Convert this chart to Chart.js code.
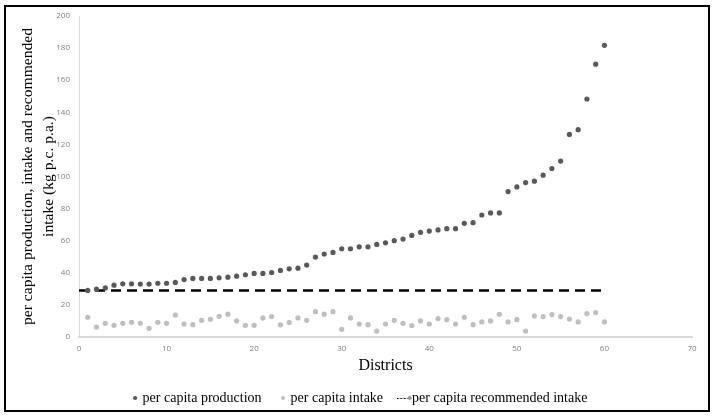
<!DOCTYPE html>
<html>
<head>
<meta charset="utf-8">
<script src="https://cdn.jsdelivr.net/npm/chart.js@4/dist/chart.umd.min.js"></script>
<style>
  body { margin: 0; background: #fff; }
  #frame { position: absolute; left: 4px; top: 5px; width: 706px; height: 407px; border: 2px solid #000; box-sizing: border-box; }
  #wrap { position: absolute; left: 0; top: 0; width: 715px; height: 418px; }
</style>
</head>
<body>
<div id="frame"></div>
<div id="wrap"><canvas id="chart"></canvas></div>
<script>
var districts = [1, 2, 3, 4, 5, 6, 7, 8, 9, 10, 11, 12, 13, 14, 15, 16, 17, 18, 19, 20,
  21, 22, 23, 24, 25, 26, 27, 28, 29, 30, 31, 32, 33, 34, 35, 36, 37, 38, 39, 40,
  41, 42, 43, 44, 45, 46, 47, 48, 49, 50, 51, 52, 53, 54, 55, 56, 57, 58, 59, 60];

// kg per capita per year
var production = [29, 29.8, 30.6, 32.3, 33.1, 33.1, 33, 33, 33.5, 33.5,
  34, 35.8, 36.5, 36.5, 36.5, 36.9, 37.3, 37.9, 38.8, 39.6,
  39.6, 40.2, 41.5, 42.5, 42.9, 44.8, 49.8, 51.7, 52.7, 55,
  55, 56.2, 56.2, 57.7, 58.7, 60, 61, 63.3, 65.2, 66,
  66.7, 67.5, 67.5, 70.8, 71.2, 76, 77.3, 77.3, 90.6, 93.5,
  96.2, 97.1, 100.8, 105, 109.6, 126.2, 129.2, 148.3, 170, 181.7];

var intake = [12.3, 6.2, 8.5, 7.3, 8.5, 9.2, 8.5, 5.4, 9.2, 8.5,
  13.7, 8.1, 7.7, 10.4, 11, 12.9, 14.2, 10, 7.3, 7.3,
  11.9, 12.7, 7.6, 9.1, 11.9, 10.4, 15.8, 14.2, 15.8, 4.8,
  11.9, 8.1, 7.7, 3.7, 8.1, 10.4, 8.5, 7.1, 10, 8.1,
  11.5, 10.8, 8.1, 12.3, 7.7, 9.4, 10, 14.1, 9.4, 10.8,
  3.7, 13.1, 12.7, 14, 12.7, 11.2, 9.4, 14.6, 15.2, 9.4];

var recX = [0, 60];
var recommended = [29, 29];

var xTicks = [0, 10, 20, 30, 40, 50, 60, 70];
var yTicks = [0, 20, 40, 60, 80, 100, 120, 140, 160, 180, 200];

function toPoints(xs, ys){
  return xs.map(function(x, i){ return {x: x, y: ys[i]}; });
}

// little "---◆" swatch for the legend
var dashIcon = document.createElement('canvas');
dashIcon.width = 16;
dashIcon.height = 6;
(function(){
  var c = dashIcon.getContext('2d');
  c.strokeStyle = '#000';
  c.lineWidth = 1;
  c.setLineDash([2, 1.5]);
  c.beginPath();
  c.moveTo(0, 3.5);
  c.lineTo(11, 3.5);
  c.stroke();
  c.fillStyle = '#8c8c8c';
  c.beginPath();
  c.moveTo(13, 0.5); c.lineTo(15.5, 3); c.lineTo(13, 5.5); c.lineTo(10.5, 3);
  c.closePath();
  c.fill();
})();

var serif = '"Liberation Serif", "Times New Roman", serif';
var tickFont = {family: '"Open Sans", sans-serif', size: 8};

// legend sits a bit right of the canvas centre in the original
var legendShift = {
  id: 'legendShift',
  afterLayout: function(chart){
    chart.legend.left += 15;
    chart.legend.right += 15;
  }
};

new Chart(document.getElementById('chart'), {
  type: 'scatter',
  data: {
    datasets: [
      {label: 'per capita production', data: toPoints(districts, production),
        backgroundColor: '#595959', borderColor: '#595959', pointRadius: 2.6, borderWidth: 0},
      {label: 'per capita intake', data: toPoints(districts, intake),
        backgroundColor: '#bfbfbf', borderColor: '#bfbfbf', pointRadius: 2.6, borderWidth: 0},
      {label: 'per capita recommended intake', type: 'line', data: toPoints(recX, recommended),
        borderColor: '#000', borderWidth: 2.6, borderDash: [10, 6], pointRadius: 0, fill: false}
    ]
  },
  plugins: [legendShift],
  options: {
    responsive: true,
    maintainAspectRatio: false,
    animation: false,
    layout: {padding: {left: 0, right: 23, top: 16, bottom: 3}},
    plugins: {
      tooltip: {enabled: false},
      legend: {
        position: 'bottom',
        labels: {
          usePointStyle: true,
          boxWidth: 1,
          boxHeight: 3,
          padding: 21,
          color: '#000',
          font: {family: serif, size: 14},
          generateLabels: function(chart){
            return chart.data.datasets.map(function(ds, i){
              var isLine = ds.type === 'line';
              return {
                text: ds.label,
                datasetIndex: i,
                fillStyle: ds.backgroundColor,
                strokeStyle: ds.backgroundColor,
                lineWidth: 0,
                pointStyle: isLine ? dashIcon : 'circle',
                fontColor: '#000'
              };
            });
          }
        }
      }
    },
    scales: {
      x: {
        type: 'linear', min: 0, max: 70,
        afterBuildTicks: function(axis){ axis.ticks = xTicks.map(function(v){ return {value: v}; }); },
        afterFit: function(axis){ axis.height = 33; },
        grid: {display: false, drawTicks: false},
        border: {display: true, color: '#d9d9d9', width: 2},
        ticks: {padding: 7, color: '#7f7f7f', font: tickFont},
        title: {display: true, text: 'Districts', color: '#000',
          font: {family: serif, size: 16, lineHeight: 0.5}, padding: {top: 0, bottom: 0}}
      },
      y: {
        min: 0, max: 200,
        afterBuildTicks: function(axis){ axis.ticks = yTicks.map(function(v){ return {value: v}; }); },
        afterFit: function(axis){ axis.width = 79; },
        grid: {display: false, drawTicks: false},
        border: {display: true, color: '#d9d9d9', width: 1},
        ticks: {padding: 9, color: '#7f7f7f', font: tickFont},
        title: {display: true,
          text: ['per capita production, intake and recommended', 'intake (kg p.c. p.a.)'],
          color: '#000', font: {family: serif, size: 15.6, lineHeight: 1.33}, padding: {top: 17.6, bottom: 0}}
      }
    }
  }
});
</script>
</body>
</html>
